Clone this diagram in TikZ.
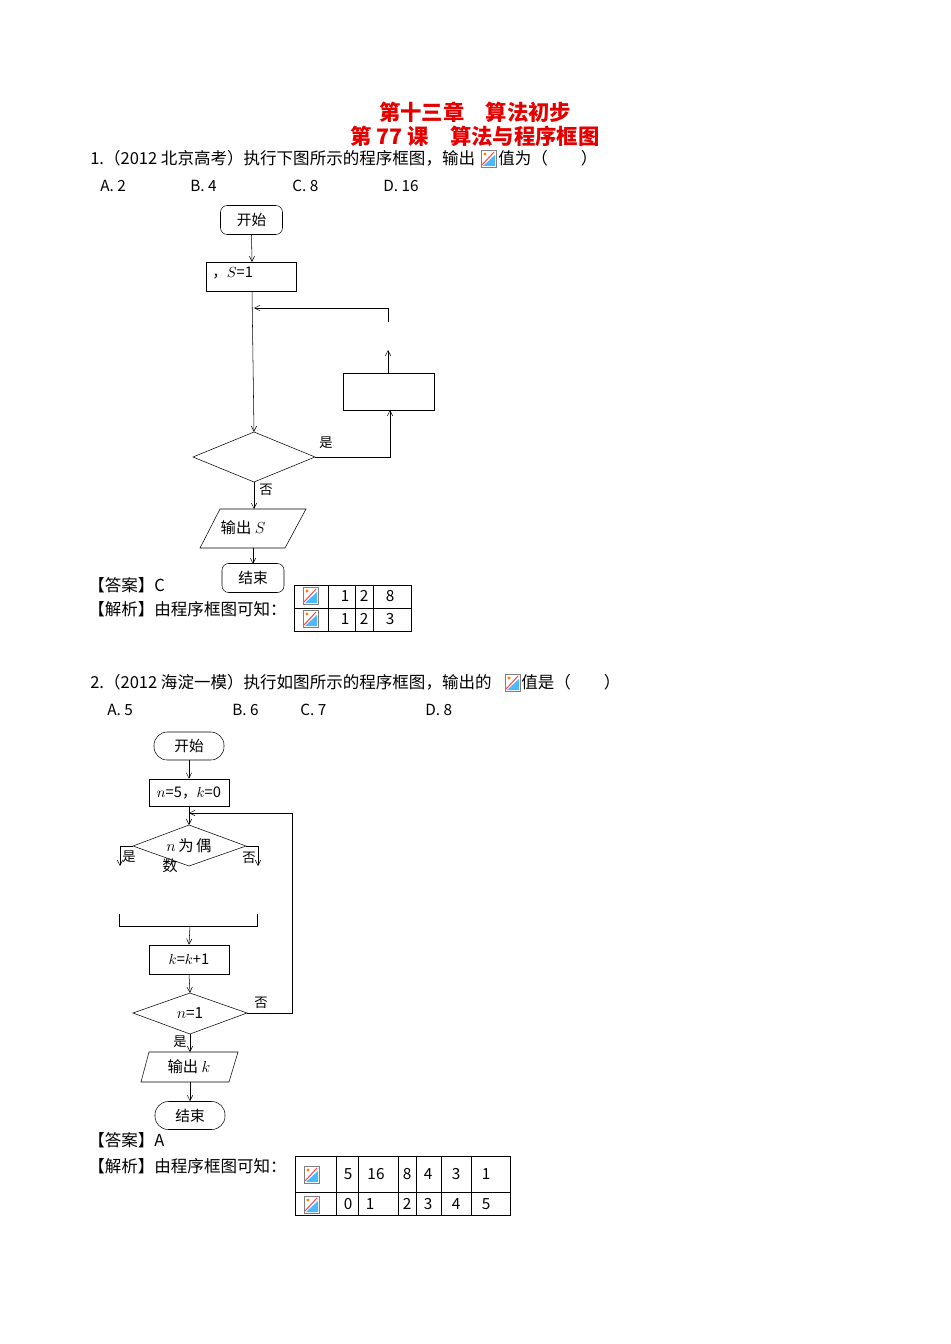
\documentclass[tikz,border=0pt]{standalone}
\usepackage{fontspec}
\setmainfont{Liberation Serif}
\newfontfamily\cjk{Noto Sans CJK SC}
\usetikzlibrary{shapes.geometric,arrows.meta}
\newcommand\myicon[1]{\begin{scope}[shift={#1}]
\fill[white] (0,0) rectangle (15,17);
\fill[blue!40!cyan!70] (2,16) -- (14,16) -- (14,5) -- cycle;
\draw[red!70,line width=0.8pt] (1,15) -- (13,2);
\fill[orange] (4,4) circle (1.6);
\draw[gray,line width=0.4pt] (0,0) rectangle (15,17);
\end{scope}}
\begin{document}
\begin{tikzpicture}[x=0.75pt,y=-0.75pt,
  txt/.style={font=\cjk\fontsize{11.5}{13}\selectfont,inner sep=0pt,anchor=west},
  qtxt/.style={font=\cjk\fontsize{12.4}{14}\selectfont,inner sep=0pt,anchor=west},
  ttl/.style={font=\cjk\bfseries\fontsize{16}{18}\selectfont,text=red!90!black,inner sep=0pt},
  term/.style={draw,rounded corners=5pt,minimum width=46.5pt,minimum height=21.75pt,font=\cjk\fontsize{11}{13}\selectfont,inner sep=0pt},
  stad/.style={draw,rounded corners=10pt,minimum width=52.5pt,minimum height=21pt,font=\cjk\fontsize{11}{13}\selectfont,inner sep=0pt},
  box/.style={draw,font=\cjk\fontsize{11}{13}\selectfont,inner sep=0pt},
  lab/.style={font=\cjk\fontsize{10}{12}\selectfont,inner sep=0pt},
  arr/.style={-{Straight Barb[length=4pt,width=4pt]}}]
\useasboundingbox (0,0) rectangle (950,1344);
\node[ttl] at (475,112) {第十三章\quad 算法初步};
\node[ttl] at (475,136) {第 77 课\quad 算法与程序框图};
\node[qtxt] (q1) at (90,158) {1.（2012 北京高考）执行下图所示的程序框图，输出};
\myicon{(481,150)}
\node[qtxt] (q1b) at (498,158) {值为（\qquad ）};
\node[txt] at (100,186) {A. 2};
\node[txt] at (190,186) {B. 4};
\node[txt] at (292,186) {C. 8};
\node[txt] at (383,186) {D. 16};
% flowchart 1
\node[term] (s1) at (251.5,220) {开始};
\draw (206,262) rectangle (296,291);
\node[box,draw=none,anchor=west] (init1) at (212,273) {，$S$=1};
\coordinate (i1b) at (252,291);
\draw[arr] (s1.south) -- (252,262);
\draw (193,457) -- (254,432) -- (315,457) -- (254,482) -- cycle;
\node[lab] at (326,443) {是};
\draw[arr] (i1b) -- (254,432);
\draw (343,373) rectangle (434,410);
\draw[arr] (315,457) -- (390,457) -- (390,410);
\draw[arr] (388,373) -- (388,350);
\draw[arr] (388,322) -- (388,308) -- (254,308);
\node[lab] at (266,490) {否};
\draw[arr] (254,482) -- (254,509);
\draw (220,509) -- (306,509) -- (285,548) -- (200,548) -- cycle;
\node[txt,anchor=center] at (243,528) {输出 $S$};
\draw[arr] (253,548) -- (253,564);
\node[term] (e1) at (253,578) {结束};
\node[qtxt] at (88,585) {【答案】C};
\node[qtxt] at (88,609) {【解析】由程序框图可知：};
\draw (294,585) rectangle (411,631);
\draw (294,608) -- (411,608);
\foreach \x in {328,355,373} \draw (\x,585) -- (\x,631);
\myicon{(303,587)} \myicon{(303,610)}
\foreach \x/\v in {345/1,364/2,390/8} \node[txt,anchor=center] at (\x,596) {\v};
\foreach \x/\v in {345/1,364/2,390/3} \node[txt,anchor=center] at (\x,619) {\v};
% Q2
\node[qtxt] at (90,682) {2.（2012 海淀一模）执行如图所示的程序框图，输出的};
\myicon{(505,674)}
\node[qtxt] at (521,682) {值是（\qquad ）};
\node[txt] at (107,710) {A. 5};
\node[txt] at (232,710) {B. 6};
\node[txt] at (300,710) {C. 7};
\node[txt] at (425,710) {D. 8};
\node[stad] (s2) at (189,746) {开始};
\node[box,minimum width=60pt,minimum height=20.25pt] (i2) at (189,792.5) {$n$=5，$k$=0};
\draw[arr] (s2.south) -- (i2.north);
\draw (133,846) -- (189,825) -- (246,846) -- (189,866) -- cycle;
\node[txt,anchor=center] at (189,846) {$n$\,为\,偶};
\node[txt,anchor=center] at (170,866) {数};
\draw[arr] (i2.south) -- (189,825);
\draw[arr] (133,846) -- (120,846) -- (120,866);
\node[lab] at (129,857) {是};
\draw[arr] (246,846) -- (258,846) -- (258,866);
\node[lab] at (249,858) {否};
\draw (119,914) -- (119,926) -- (257,926) -- (257,914);
\node[box,minimum width=60pt,minimum height=21.75pt] (k2) at (189,959.5) {$k$=$k$+1};
\draw[arr] (190,926) -- (k2.north);
\draw (133,1013) -- (190,993) -- (247,1013) -- (190,1034) -- cycle;
\node[txt,anchor=center] at (190,1013) {$n$=1};
\draw[arr] (k2.south) -- (190,993);
\draw[arr] (247,1013) -- (292,1013) -- (292,813) -- (189,813);
\node[lab] at (261,1003) {否};
\node[lab] at (180,1042) {是};
\draw[arr] (190,1034) -- (190,1052);
\draw (149,1052) -- (238,1052) -- (229,1082) -- (141,1082) -- cycle;
\node[txt,anchor=center] at (189,1067) {输出 $k$};
\node[stad] (e2) at (190,1115.5) {结束};
\draw[arr] (190,1082) -- (e2.north);
\node[qtxt] at (88,1140) {【答案】A};
\node[qtxt] at (88,1166) {【解析】由程序框图可知：};
\draw (295,1156) rectangle (510,1215);
\draw (295,1192) -- (510,1192);
\foreach \x in {336,358,398,416,441,471} \draw (\x,1156) -- (\x,1215);
\myicon{(304,1166)} \myicon{(304,1196)}
\foreach \x/\v in {348/5,376/16,407/8,428/4,456/3,486/1} \node[txt,anchor=center] at (\x,1174) {\v};
\foreach \x/\v in {348/0,370/1,407/2,428/3,456/4,486/5} \node[txt,anchor=center] at (\x,1204) {\v};
\end{tikzpicture}
\end{document}
